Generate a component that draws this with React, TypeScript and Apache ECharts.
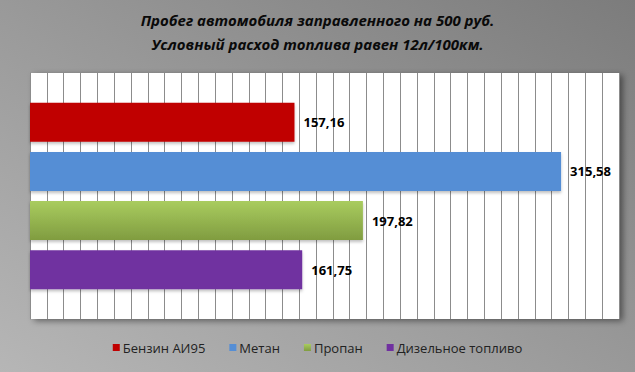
import React, { useEffect, useRef } from "react";
import * as echarts from "echarts";

const titleLines = ["Пробег автомобиля заправленного на 500 руб.", "Условный расход топлива равен 12л/100км."];
const categories = [""];
const seriesNames = ["Бензин АИ95", "Метан", "Пропан", "Дизельное топливо"];
const values = [157.16, 315.58, 197.82, 161.75];
const colors = ["#c00000", "#558ed5", "#9bbb59", "#7030a0"];
const axisMax = 350;
const axisInterval = 10;

export default function App() {
  const ref = useRef<HTMLDivElement>(null);
  useEffect(() => {
    const chart = echarts.init(ref.current!, null, { renderer: "svg" });
    const series = seriesNames.map((name, i) => ({
      name,
      type: "bar",
      data: [values[i]],
      barWidth: 39,
      barGap: "26%",
      itemStyle: {
        color: i === 2
          ? new echarts.graphic.LinearGradient(0, 0, 0, 1, [
              { offset: 0, color: "#a9cc5f" },
              { offset: 1, color: "#809c40" },
            ])
          : colors[i],
        shadowColor: "rgba(0,0,0,0.25)",
        shadowBlur: 3,
        shadowOffsetY: 2,
      },
      label: {
        show: true,
        position: "right",
        distance: 9,
        color: "#000",
        fontWeight: "bold",
        fontSize: 13,
        fontFamily: "Open Sans, sans-serif",
        formatter: (p: any) => p.value.toFixed(2).replace(".", ","),
      },
    }));
    chart.setOption({
      animation: false,
      backgroundColor: new echarts.graphic.LinearGradient(0, 1, 1, 0, [
        { offset: 0, color: "#b6b6b6" },
        { offset: 1, color: "#7c7c7c" },
      ]),
      title: {
        text: titleLines.join("\n"),
        left: "center",
        top: 3,
        textStyle: {
          fontSize: 15,
          fontStyle: "italic",
          fontWeight: "bold",
          fontFamily: "Open Sans, sans-serif",
          color: "#0a0a0a",
          lineHeight: 24,
        },
      },
      legend: {
        bottom: 13,
        left: "center",
        itemWidth: 7,
        itemHeight: 7,
        itemGap: 24,
        icon: "rect",
        textStyle: { fontSize: 13, color: "#222", fontFamily: "Open Sans, sans-serif", padding: [0, 0, 0, -2] },
        data: seriesNames,
      },
      grid: {
        left: 30,
        right: 16,
        top: 73,
        bottom: 53,
        show: true,
        backgroundColor: "#ffffff",
        borderWidth: 0,
        shadowColor: "rgba(0,0,0,0.45)",
        shadowBlur: 6,
        shadowOffsetX: 4,
        shadowOffsetY: 2,
      },
      xAxis: {
        type: "value",
        min: 0,
        max: axisMax,
        interval: axisInterval,
        axisLabel: { show: false },
        axisLine: { show: false },
        axisTick: { show: false },
        splitLine: { show: true, lineStyle: { color: "#8c8c8c", width: 1 } },
      },
      yAxis: {
        type: "category",
        data: categories,
        inverse: true,
        axisLabel: { show: false },
        axisTick: { show: false },
        axisLine: { show: true, lineStyle: { color: "#8c8c8c" } },
      },
      series,
    });
    return () => chart.dispose();
  }, []);
  return <div ref={ref} style={{ width: 635, height: 372, position: "absolute", left: 0, top: 0 }} />;
}
